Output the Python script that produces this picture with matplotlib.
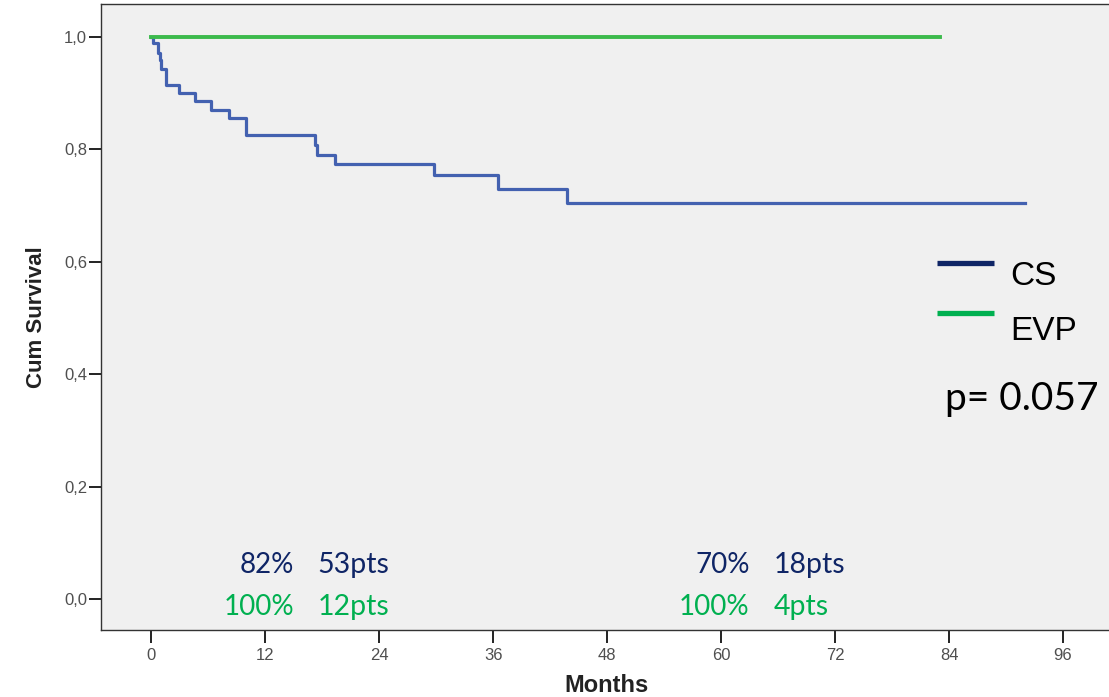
import matplotlib
matplotlib.use("Agg")
import matplotlib.pyplot as plt

# Kaplan-Meier estimates (months, cumulative survival)
cs_months = [0, 0.2, 0.67, 0.88, 1.02, 1.58, 2.9, 4.57, 6.3, 8.15, 9.97,
             17.2, 17.46, 19.3, 29.75, 36.5, 43.8, 92]
cs_surv = [1.0, 0.989, 0.971, 0.959, 0.943, 0.915, 0.900, 0.886, 0.871,
           0.856, 0.825, 0.808, 0.791, 0.775, 0.754, 0.730, 0.704, 0.704]
evp_months = [0, 83]
evp_surv = [1.0, 1.0]

x_ticks = [0, 12, 24, 36, 48, 60, 72, 84, 96]
y_ticks = [0.0, 0.2, 0.4, 0.6, 0.8, 1.0]
y_tick_labels = ["0,0", "0,2", "0,4", "0,6", "0,8", "1,0"]

# Survival / patients-at-risk annotations at 12 and 60 months
ann_months = [12, 60]
cs_pct = ["82%", "70%"]
cs_pts = ["53pts", "18pts"]
evp_pct = ["100%", "100%"]
evp_pts = ["12pts", "4pts"]

group_names = ["CS", "EVP"]
p_value = "p= 0.057"

CURVE_BLUE = "#4361b0"
CURVE_GREEN = "#3cba4c"
NAVY = "#0f2566"
GREEN = "#00b050"

fig = plt.figure(figsize=(11.09, 6.97), dpi=100, facecolor="white")
ax = fig.add_axes([0.0911, 0.0961, 0.912, 0.898])
ax.set_facecolor("#f0f0f0")

ax.plot(cs_months, cs_surv, drawstyle="steps-post", color=CURVE_BLUE, lw=2.3)
ax.plot(evp_months, evp_surv, drawstyle="steps-post", color=CURVE_GREEN, lw=2.8)

ax.set_xlim(-5.3, 101.2)
ax.set_ylim(-0.0552, 1.0587)
ax.set_xticks(x_ticks)
ax.set_xticklabels([str(t) for t in x_ticks])
ax.set_yticks(y_ticks)
ax.set_yticklabels(y_tick_labels)

tick_font = ["Liberation Sans", "DejaVu Sans"]
for lab in ax.get_xticklabels() + ax.get_yticklabels():
    lab.set_family(tick_font)
    lab.set_fontsize(12)
    lab.set_color("#4f4f4f")
ax.tick_params(axis="both", direction="out", length=9, width=1.4, color="#222222")
ax.tick_params(axis="x", pad=4)
ax.tick_params(axis="y", pad=1)
for s in ax.spines.values():
    s.set_color("#333333")
    s.set_linewidth(1.0)

ax.set_xlabel("Months", family=tick_font, fontsize=17, fontweight="bold",
              color="#222222", labelpad=8)
ax.set_ylabel("Cum Survival", family=tick_font, fontsize=16, fontweight="bold",
              color="#222222", labelpad=12)

ann_font = ["Lato", "DejaVu Sans"]
offset = 2.5
for m, cp, cn, ep, en in zip(ann_months, cs_pct, cs_pts, evp_pct, evp_pts):
    ax.text(m + 3.0, 0.046, cp, ha="right", va="baseline", color=NAVY,
            fontsize=20, family=ann_font)
    ax.text(m + 3.0 + offset, 0.046, cn, ha="left", va="baseline", color=NAVY,
            fontsize=20.5, family=ann_font)
    ax.text(m + 3.0, -0.0285, ep, ha="right", va="baseline", color=GREEN,
            fontsize=20, family=ann_font)
    ax.text(m + 3.0 + offset, -0.0285, en, ha="left", va="baseline", color=GREEN,
            fontsize=20.5, family=ann_font)

# Key: line swatch with the group name set slightly below it
key_colors = [NAVY, GREEN]
key_line_y = [0.5863, 0.5064]
key_text_y = [0.5511, 0.4633]
for name, col, ly, ty in zip(group_names, key_colors, key_line_y, key_text_y):
    ax.plot([0.8266, 0.8829], [ly, ly], transform=ax.transAxes, color=col,
            lw=3.8, solid_capstyle="butt", clip_on=False)
    ax.text(0.8988, ty, name, transform=ax.transAxes, ha="left", va="baseline",
            fontsize=24, family=["Liberation Sans", "DejaVu Sans"], color="black")

ax.text(0.8345, 0.3514, p_value, transform=ax.transAxes, ha="left",
        va="baseline", fontsize=28, family=ann_font, color="black")

fig.savefig("out.png", dpi=100, facecolor=fig.get_facecolor())
